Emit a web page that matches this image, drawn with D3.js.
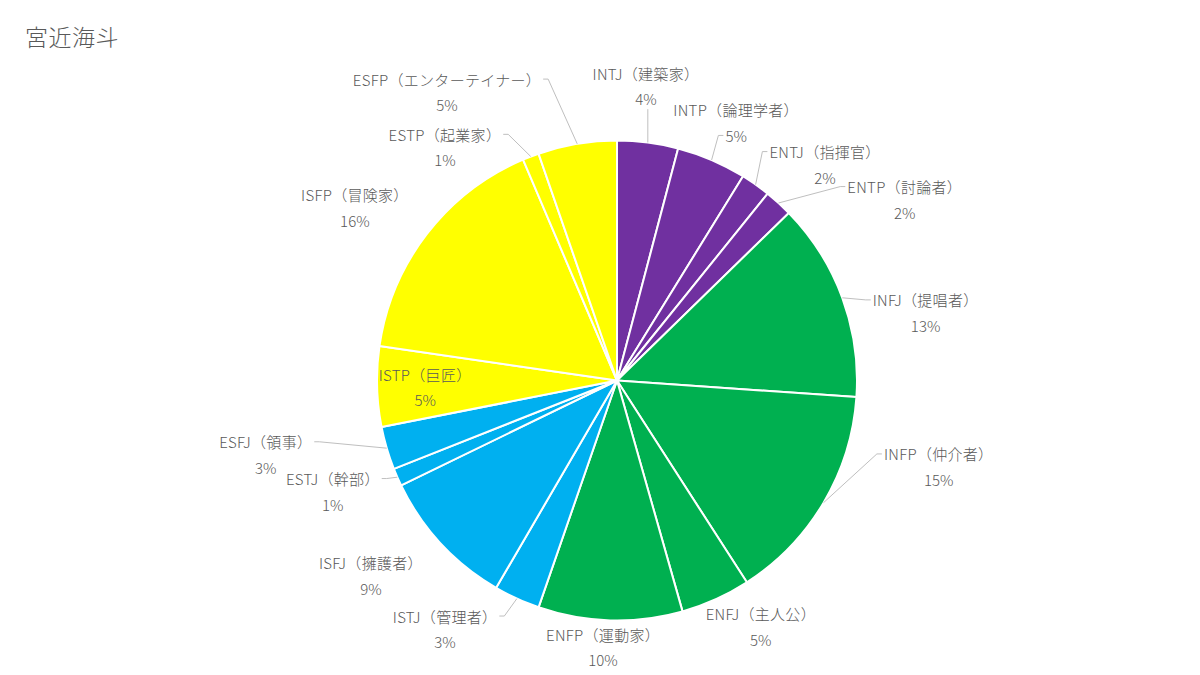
<!DOCTYPE html>
<html>
<head>
<meta charset="utf-8">
<script src="https://cdn.jsdelivr.net/npm/d3@7"></script>
<style>
  html, body { margin: 0; padding: 0; background: #fff; }
  svg { display: block; font-family: "Noto Sans CJK JP", "Noto Sans", sans-serif; }
</style>
</head>
<body>
<svg id="chart" width="1200" height="675"></svg>
<script>
// データ（時計回り、12時の位置から）
const types = ["INTJ", "INTP", "ENTJ", "ENTP", "INFJ", "INFP", "ENFJ", "ENFP",
               "ISTJ", "ISFJ", "ESTJ", "ESFJ", "ISTP", "ISFP", "ESTP", "ESFP"];
const names = ["建築家", "論理学者", "指揮官", "討論者", "提唱者", "仲介者", "主人公", "運動家",
               "管理者", "擁護者", "幹部", "領事", "巨匠", "冒険家", "起業家", "エンターテイナー"];
const shares = [4.1, 4.7, 2.0, 1.9, 13.4, 14.8, 4.7, 9.7,
                3.1, 9.4, 1.2, 2.9, 5.4, 16.3, 1.1, 5.3];
const groups = ["NT", "NT", "NT", "NT", "NF", "NF", "NF", "NF",
                "SJ", "SJ", "SJ", "SJ", "SP", "SP", "SP", "SP"];

const groupColors = { NT: "#7030A0", NF: "#00B050", SJ: "#00B0F0", SP: "#FFFF00" };

// ラベル配置（中心からの角度[deg], 半径, 引き出し線の有無）
const labelLayout = [
  [5.6, 296, true], [24.8, 284, true], [43.9, 300, true], [57.8, 340, true],
  [77.6, 316, true], [105, 333, true], [149.7, 285, false], [183, 267, false],
  [214.7, 302, true], [231.6, 314, false], [248.7, 305, true], [258.1, 359, true],
  [268, 192, false], [303.4, 314, false], [323.6, 290, true], [329.5, 335, true]
];

const width = 1200, height = 675;
const cx = 617, cy = 380.5, radius = 240;
const textColor = "#595959";
const lineGap = 25.5;

const svg = d3.select("#chart");

svg.append("text")
  .attr("x", 25)
  .attr("y", 46)
  .attr("fill", textColor)
  .attr("font-size", 23)
  .attr("font-weight", 300)
  .attr("letter-spacing", 0.5)
  .text("宮近海斗");

const data = types.map((t, i) => ({
  type: t, name: names[i], value: shares[i], group: groups[i], layout: labelLayout[i]
}));
const total = d3.sum(shares);

const pie = d3.pie().sort(null).value(d => d.value);
const arc = d3.arc().innerRadius(0).outerRadius(radius);
const arcs = pie(data);

const g = svg.append("g").attr("transform", `translate(${cx},${cy})`);

g.selectAll("path.slice")
  .data(arcs)
  .enter()
  .append("path")
  .attr("class", "slice")
  .attr("d", arc)
  .attr("fill", d => groupColors[d.data.group])
  .attr("stroke", "#fff")
  .attr("stroke-width", 2)
  .attr("stroke-linejoin", "round");

const rad = deg => deg * Math.PI / 180;
const polar = (a, r) => [r * Math.sin(a), -r * Math.cos(a)];

const leaderGroup = g.append("g").attr("class", "leaders");
const labelGroup = g.append("g").attr("class", "labels");

arcs.forEach(d => {
  const [angDeg, r, leader] = d.data.layout;
  const [lx, ly] = polar(rad(angDeg), r);

  const lab = labelGroup.append("g");
  const t1 = lab.append("text")
    .attr("x", lx)
    .attr("y", ly - lineGap / 2)
    .attr("text-anchor", "middle")
    .attr("dominant-baseline", "central")
    .attr("fill", textColor)
    .attr("font-size", 15)
    .attr("font-weight", 300)
    .attr("letter-spacing", 0.3)
    .text(`${d.data.type}（${d.data.name}）`);
  const t2 = lab.append("text")
    .attr("x", lx)
    .attr("y", ly + lineGap / 2)
    .attr("text-anchor", "middle")
    .attr("dominant-baseline", "central")
    .attr("fill", textColor)
    .attr("font-size", 15)
    .attr("font-weight", 300)
    .text(Math.round(d.data.value / total * 100) + "%");

  if (!leader) return;

  // 扇形の外周上の点（中央角）
  const mid = (d.startAngle + d.endAngle) / 2;
  const [px, py] = polar(mid, radius);

  // ラベル各行の矩形のうち最も近い点に接続
  let best = null;
  [t1, t2].forEach(t => {
    const b = t.node().getBBox();
    const box = { x0: b.x - 2, x1: b.x + b.width + 2, y0: b.y, y1: b.y + b.height };
    const qx = Math.max(box.x0, Math.min(px, box.x1));
    const qy = Math.max(box.y0, Math.min(py, box.y1));
    const dist = Math.hypot(qx - px, qy - py);
    if (!best || dist < best.dist) best = { qx, qy, dist, box };
  });

  let pts;
  const { box } = best;
  if (best.qx === box.x0 || best.qx === box.x1) {
    const ay = (box.y0 + box.y1) / 2;
    const stub = best.qx === box.x0 ? -5 : 5;
    pts = [[px, py], [best.qx + stub, ay], [best.qx, ay]];
  } else {
    pts = [[px, py], [best.qx, best.qy]];
  }

  leaderGroup.append("path")
    .attr("d", d3.line()(pts))
    .attr("fill", "none")
    .attr("stroke", "#BFBFBF")
    .attr("stroke-width", 1);
});
</script>
</body>
</html>
